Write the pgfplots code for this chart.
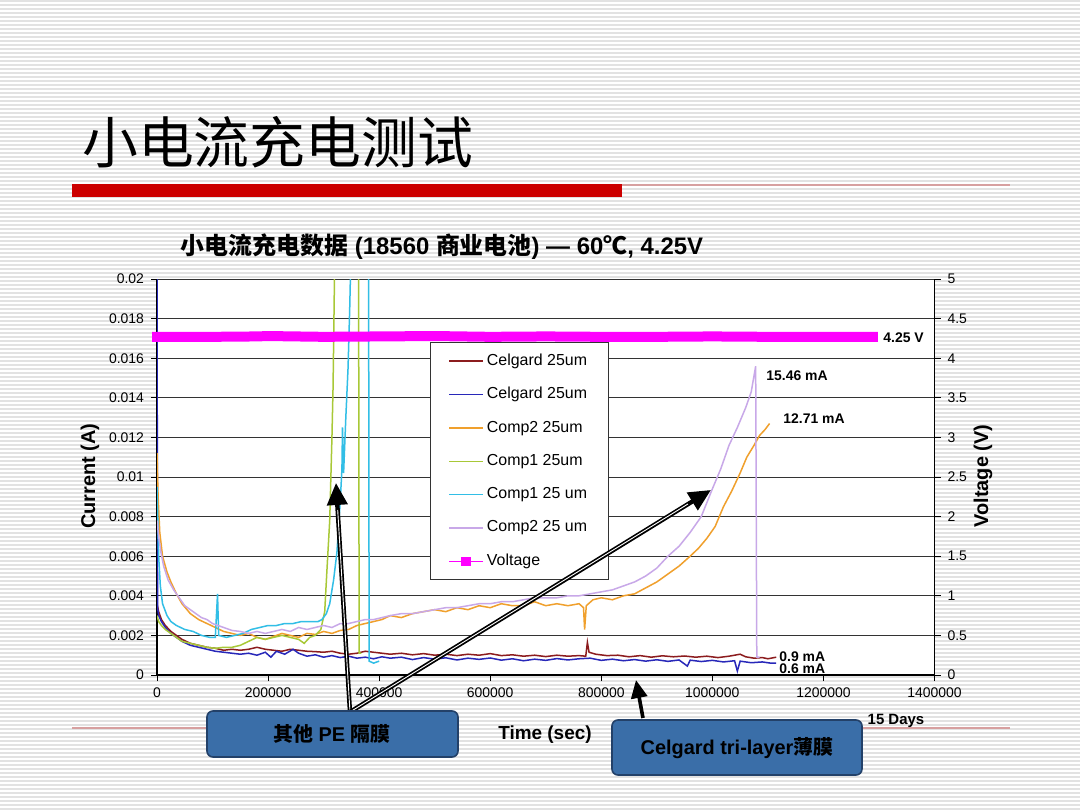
\documentclass[border=0pt]{standalone}
\usepackage{fontspec}
\setmainfont{Liberation Sans}
\newfontfamily\cjk{Noto Sans CJK SC}
\usepackage{pgfplots}
\pgfplotsset{compat=1.18}
\usetikzlibrary{arrows.meta}
\definecolor{cred}{RGB}{140,28,30}
\definecolor{cblue}{RGB}{40,40,185}
\definecolor{corange}{RGB}{240,160,45}
\definecolor{cgreen}{RGB}{168,200,55}
\definecolor{ccyan}{RGB}{50,190,230}
\definecolor{clav}{RGB}{200,168,232}
\definecolor{vmag}{RGB}{255,0,255}
\definecolor{redbar}{RGB}{204,0,0}
\definecolor{thinred}{RGB}{215,160,160}
\definecolor{stripe}{RGB}{226,226,226}
\definecolor{boxfill}{RGB}{58,110,168}
\definecolor{boxline}{RGB}{35,65,105}
\newcommand\fs[1]{\fontsize{#1}{#1}\selectfont}
\begin{document}
\begin{tikzpicture}
\useasboundingbox (0,0) rectangle (540bp,-405bp);
\begin{scope}[x=0.5bp,y=-0.5bp]
  \fill[white] (0,0) rectangle (1080,810);
  \foreach \i in {0,...,202} \draw[stripe, line width=1bp] (0,\i*4+1.5) -- (1080,\i*4+1.5);
  \fill[white] (157,279) rectangle (934.5,675);
  \node[anchor=west, inner sep=0pt, font=\cjk\fs{28}] at (82,142) {小电流充电测试};
  \fill[redbar] (72,184) rectangle (622,197);
  \draw[thinred, line width=0.6bp] (622,185) -- (1010,185);
  \node[inner sep=0pt, font=\fs{12}] at (442,247) {{\cjk\bfseries 小电流充电数据} \textbf{(18560} {\cjk\bfseries 商业电池}\textbf{) — 60}{\cjk\bfseries ℃}\textbf{, 4.25V}};
  \draw[thinred, line width=0.6bp] (72,728) -- (207,728);
  \draw[thinred, line width=0.6bp] (862,728) -- (1010,728);
\end{scope}

\begin{axis}[
  scale only axis, width=388.75bp, height=198bp,
  at={(78.5bp,-337.5bp)}, anchor=south west,
  xmin=0, xmax=1400000, ymin=0, ymax=0.02,
  scaled ticks=false,
  axis x line*=bottom, axis y line*=left,
  xtick={0,200000,400000,600000,800000,1000000,1200000,1400000},
  xticklabels={0,200000,400000,600000,800000,1000000,1200000,1400000},
  ytick={0,0.002,0.004,0.006,0.008,0.01,0.012,0.014,0.016,0.018,0.02},
  yticklabels={0,0.002,0.004,0.006,0.008,0.01,0.012,0.014,0.016,0.018,0.02},
  tick align=outside, major tick length=3bp,
  ymajorgrids, grid style={black!80, line width=0.5bp},
  axis line style={black, line width=0.6bp},
  tick style={black, line width=0.5bp},
  ticklabel style={font=\fs{7}},
  legend style={at={(0.3509,0.8409)}, anchor=north west, draw=black!80, line width=0.5bp,
    fill=white, font=\fs{8}, inner xsep=9bp, inner ysep=3.5bp, row sep=5.6bp, cells={anchor=west},
    nodes={inner xsep=1.5bp}},
  every axis plot/.append style={line width=0.75bp},
]
\addplot[cred] coordinates {
(0,0.0036)(3000,0.0032)(8000,0.0028)(15000,0.0025)(25000,0.0022)(35000,0.0020)(45000,0.0018)
(60000,0.0016)(75000,0.0015)(90000,0.0014)(105000,0.00135)(120000,0.00125)(135000,0.0013)
(150000,0.00125)(165000,0.0013)(180000,0.0014)(195000,0.0013)(210000,0.00125)(225000,0.0012)
(240000,0.0013)(255000,0.00125)(270000,0.0012)(285000,0.00118)(300000,0.00115)(315000,0.0012)
(330000,0.0011)(345000,0.00105)(360000,0.0011)(375000,0.0012)(390000,0.00115)(405000,0.0011)
(420000,0.00105)(440000,0.0011)(460000,0.00102)(480000,0.00108)(500000,0.001)(520000,0.00105)
(540000,0.00098)(560000,0.00105)(580000,0.001)(600000,0.00108)(620000,0.00098)(640000,0.00102)
(660000,0.00095)(680000,0.001)(700000,0.00093)(720000,0.001)(740000,0.00095)(760000,0.00098)
(772000,0.00095)(775000,0.00165)(778000,0.00115)(790000,0.00105)(810000,0.00098)(830000,0.001)
(850000,0.00092)(870000,0.00098)(890000,0.0009)(910000,0.00097)(930000,0.00092)(950000,0.00096)
(970000,0.0009)(990000,0.00095)(1010000,0.00088)(1030000,0.00095)(1050000,0.00105)(1060000,0.00092)
(1075000,0.00085)(1090000,0.00088)(1100000,0.00082)(1115000,0.0009)};
\addlegendentry{Celgard 25um}
\addplot[cblue] coordinates {
(0,0.021)(1000,0.0034)(3000,0.003)(8000,0.0027)(15000,0.0024)(25000,0.0021)(35000,0.0019)
(45000,0.0017)(60000,0.0015)(75000,0.0014)(90000,0.0013)(105000,0.0012)(120000,0.00115)
(135000,0.0011)(150000,0.00105)(165000,0.0011)(180000,0.001)(195000,0.00115)(205000,0.0009)
(215000,0.0012)(230000,0.00105)(245000,0.0013)(255000,0.0011)(270000,0.00095)(285000,0.00102)
(300000,0.0009)(315000,0.00098)(330000,0.00088)(345000,0.00095)(360000,0.00085)(375000,0.0009)
(390000,0.00082)(405000,0.00092)(420000,0.00085)(440000,0.0009)(460000,0.00078)(480000,0.00088)
(500000,0.0008)(520000,0.00087)(540000,0.00076)(560000,0.00085)(580000,0.00079)(600000,0.00086)
(620000,0.00075)(640000,0.00082)(660000,0.00072)(680000,0.0008)(700000,0.00074)(720000,0.00083)
(740000,0.00076)(760000,0.00082)(780000,0.00085)(800000,0.00074)(820000,0.0008)(840000,0.00072)
(860000,0.00078)(880000,0.0007)(900000,0.00077)(920000,0.00069)(940000,0.00076)(955000,0.00045)
(960000,0.00075)(980000,0.00068)(1000000,0.00074)(1020000,0.00066)(1040000,0.00072)(1045000,0.0002)
(1050000,0.0007)(1070000,0.00062)(1090000,0.00066)(1105000,0.0006)(1115000,0.0006)};
\addlegendentry{Celgard 25um}
\addplot[corange] coordinates {
(0,0.0112)(2000,0.009)(5000,0.0072)(10000,0.006)(18000,0.0052)(25000,0.0047)(35000,0.0041)
(45000,0.0036)(60000,0.0031)(75000,0.0028)(90000,0.0026)(105000,0.0024)(120000,0.0022)
(135000,0.0021)(150000,0.002)(165000,0.0021)(180000,0.0019)(195000,0.0018)(210000,0.00195)
(225000,0.0021)(240000,0.002)(255000,0.0019)(270000,0.0021)(285000,0.00205)(300000,0.0022)
(315000,0.0021)(330000,0.00225)(345000,0.0023)(360000,0.0025)(375000,0.0026)(390000,0.0027)
(405000,0.0028)(420000,0.003)(440000,0.0029)(460000,0.0031)(480000,0.0032)(500000,0.0033)
(520000,0.0032)(540000,0.0034)(560000,0.0033)(580000,0.0035)(600000,0.0034)(620000,0.0036)
(640000,0.0035)(660000,0.0035)(680000,0.0037)(700000,0.0035)(720000,0.0036)(740000,0.0035)
(760000,0.0036)(768000,0.0034)(770000,0.0023)(773000,0.0035)(785000,0.0038)(800000,0.0039)
(820000,0.0038)(840000,0.004)(860000,0.0041)(880000,0.0044)(900000,0.0047)(920000,0.0051)
(940000,0.0055)(960000,0.006)(975000,0.0064)(990000,0.0069)(1005000,0.0075)(1020000,0.0085)
(1035000,0.0093)(1050000,0.0102)(1062000,0.011)(1075000,0.0116)(1085000,0.0121)(1095000,0.0124)
(1103000,0.0127)};
\addlegendentry{Comp2 25um}
\addplot[cgreen] coordinates {
(0,0.0030)(3000,0.0027)(8000,0.0025)(15000,0.0023)(25000,0.0021)(35000,0.0019)(45000,0.0017)
(60000,0.0016)(75000,0.0015)(90000,0.0014)(105000,0.00135)(120000,0.0014)(135000,0.0014)
(150000,0.0015)(165000,0.0017)(180000,0.0019)(195000,0.0018)(210000,0.0019)(225000,0.002)
(240000,0.0019)(255000,0.0018)(265000,0.0016)(275000,0.0019)(285000,0.002)(295000,0.0023)
(302000,0.0032)(306000,0.0053)(311000,0.0078)(315000,0.012)(317000,0.0145)(320000,0.021)
(363000,0.021)(364000,0.0011)(368000,0.0011)};
\addlegendentry{Comp1 25um}
\addplot[ccyan] coordinates {
(0,0.0095)(3000,0.006)(6000,0.0045)(10000,0.0036)(18000,0.003)(25000,0.0027)(35000,0.0025)
(50000,0.0023)(65000,0.0022)(80000,0.002)(95000,0.0019)(105000,0.0019)(109000,0.0041)
(111000,0.002)(125000,0.0019)(140000,0.002)(155000,0.0021)(170000,0.0023)(185000,0.0024)
(200000,0.0025)(215000,0.0025)(230000,0.0026)(245000,0.0026)(260000,0.0027)(275000,0.0027)
(290000,0.0027)(297000,0.0028)(305000,0.0031)(311000,0.0036)(318000,0.0048)(324000,0.0062)
(330000,0.0088)(333000,0.0104)(334000,0.0125)(336000,0.0102)(340000,0.013)(344000,0.0155)
(347000,0.0185)(349000,0.021)(381000,0.021)(382000,0.0007)(390000,0.0006)(400000,0.0007)};
\addlegendentry{Comp1 25 um}
\addplot[clav] coordinates {
(0,0.0078)(3000,0.007)(7000,0.0062)(12000,0.0055)(20000,0.0048)(30000,0.0043)(40000,0.0039)
(50000,0.0035)(60000,0.0033)(70000,0.0031)(80000,0.0029)(90000,0.0028)(100000,0.0026)
(110000,0.0025)(120000,0.0024)(135000,0.00225)(150000,0.0022)(165000,0.0021)(180000,0.0022)
(195000,0.0021)(210000,0.0022)(225000,0.0023)(240000,0.0022)(255000,0.0024)(270000,0.0023)
(285000,0.0024)(300000,0.0025)(315000,0.0024)(330000,0.0026)(345000,0.0026)(360000,0.0027)
(375000,0.0028)(390000,0.0028)(405000,0.0029)(420000,0.003)(440000,0.0031)(460000,0.0031)
(480000,0.0032)(500000,0.0033)(520000,0.0034)(540000,0.0034)(560000,0.0035)(580000,0.0036)
(600000,0.0036)(620000,0.0037)(640000,0.0037)(660000,0.0038)(680000,0.0039)(700000,0.0039)
(720000,0.0039)(740000,0.004)(760000,0.004)(780000,0.0041)(800000,0.0042)(820000,0.0043)
(840000,0.0045)(860000,0.0047)(880000,0.005)(900000,0.0054)(920000,0.006)(940000,0.0065)
(960000,0.0072)(980000,0.008)(1000000,0.0094)(1015000,0.0104)(1030000,0.0116)(1045000,0.0125)
(1060000,0.0135)(1070000,0.0143)(1078000,0.0156)(1080000,0.0009)(1085000,0.0009)};
\addlegendentry{Comp2 25 um}
\addlegendimage{vmag, line width=0.8bp, mark=square*, mark size=2bp}
\addlegendentry{Voltage}
\end{axis}

\begin{axis}[
  scale only axis, width=388.75bp, height=198bp,
  at={(78.5bp,-337.5bp)}, anchor=south west,
  xmin=0, xmax=1400000, ymin=0, ymax=5,
  scaled ticks=false,
  axis y line*=right, axis x line=none,
  ytick={0,0.5,1,1.5,2,2.5,3,3.5,4,4.5,5},
  yticklabels={0,0.5,1,1.5,2,2.5,3,3.5,4,4.5,5},
  tick align=outside, major tick length=3bp,
  axis line style={black, line width=0.6bp},
  tick style={black, line width=0.5bp},
  ticklabel style={font=\fs{7}},
  clip=false,
]
\addplot[vmag, line width=5bp, line cap=rect] coordinates {
(0,4.27)(100000,4.27)(180000,4.275)(200000,4.28)(250000,4.275)(300000,4.27)(400000,4.275)
(500000,4.28)(600000,4.27)(700000,4.275)(800000,4.27)(900000,4.27)(1000000,4.275)(1100000,4.27)
(1200000,4.27)(1289000,4.27)};
\end{axis}

\begin{scope}[x=0.5bp,y=-0.5bp]
  \node[rotate=90, font=\bfseries\fs{10}] at (90,476) {Current (A)};
  \node[rotate=90, font=\bfseries\fs{10}] at (983,476) {Voltage (V)};
  \node[font=\bfseries\fs{9.5}] at (545,735) {Time (sec)};
  \node[font=\bfseries\fs{7.5}] at (896,721) {15 Days};
  \node[anchor=west, inner sep=0pt, font=\bfseries\fs{7}] at (883,338) {4.25 V};
  \node[anchor=west, inner sep=0pt, font=\bfseries\fs{7}] at (766,376) {15.46 mA};
  \node[anchor=west, inner sep=0pt, font=\bfseries\fs{7}] at (783,419) {12.71 mA};
  \node[anchor=west, inner sep=0pt, font=\bfseries\fs{7}] at (779,657) {0.9 mA};
  \node[anchor=west, inner sep=0pt, font=\bfseries\fs{7}] at (779,669) {0.6 mA};
  % arrows
  \draw[black, line width=2.2bp, -{Triangle[length=11bp,width=10bp]}] (350,712) -- (336,483);
  \draw[white, line width=0.45bp] (350,712) -- (337.7,510);
  \draw[black, line width=2.2bp, -{Triangle[length=11bp,width=10bp]}] (350,712) -- (711,490);
  \draw[white, line width=0.45bp] (350,712) -- (688,504);
  \draw[black, line width=1.8bp, -{Triangle[length=9bp,width=8bp]}] (643,718) -- (636,680);
  % boxes
  \draw[boxline, fill=boxfill, rounded corners=3bp, line width=0.8bp] (207,711) rectangle (458,757);
  \node[font=\bfseries\fs{10}] at (332,734) {{\cjk\bfseries 其他} PE {\cjk\bfseries 隔膜}};
  \draw[boxline, fill=boxfill, rounded corners=3bp, line width=0.8bp] (612,720) rectangle (862,775);
  \node[font=\bfseries\fs{10}] at (737,748) {Celgard tri-layer{\cjk\bfseries 薄膜}};
\end{scope}
\end{tikzpicture}
\end{document}
